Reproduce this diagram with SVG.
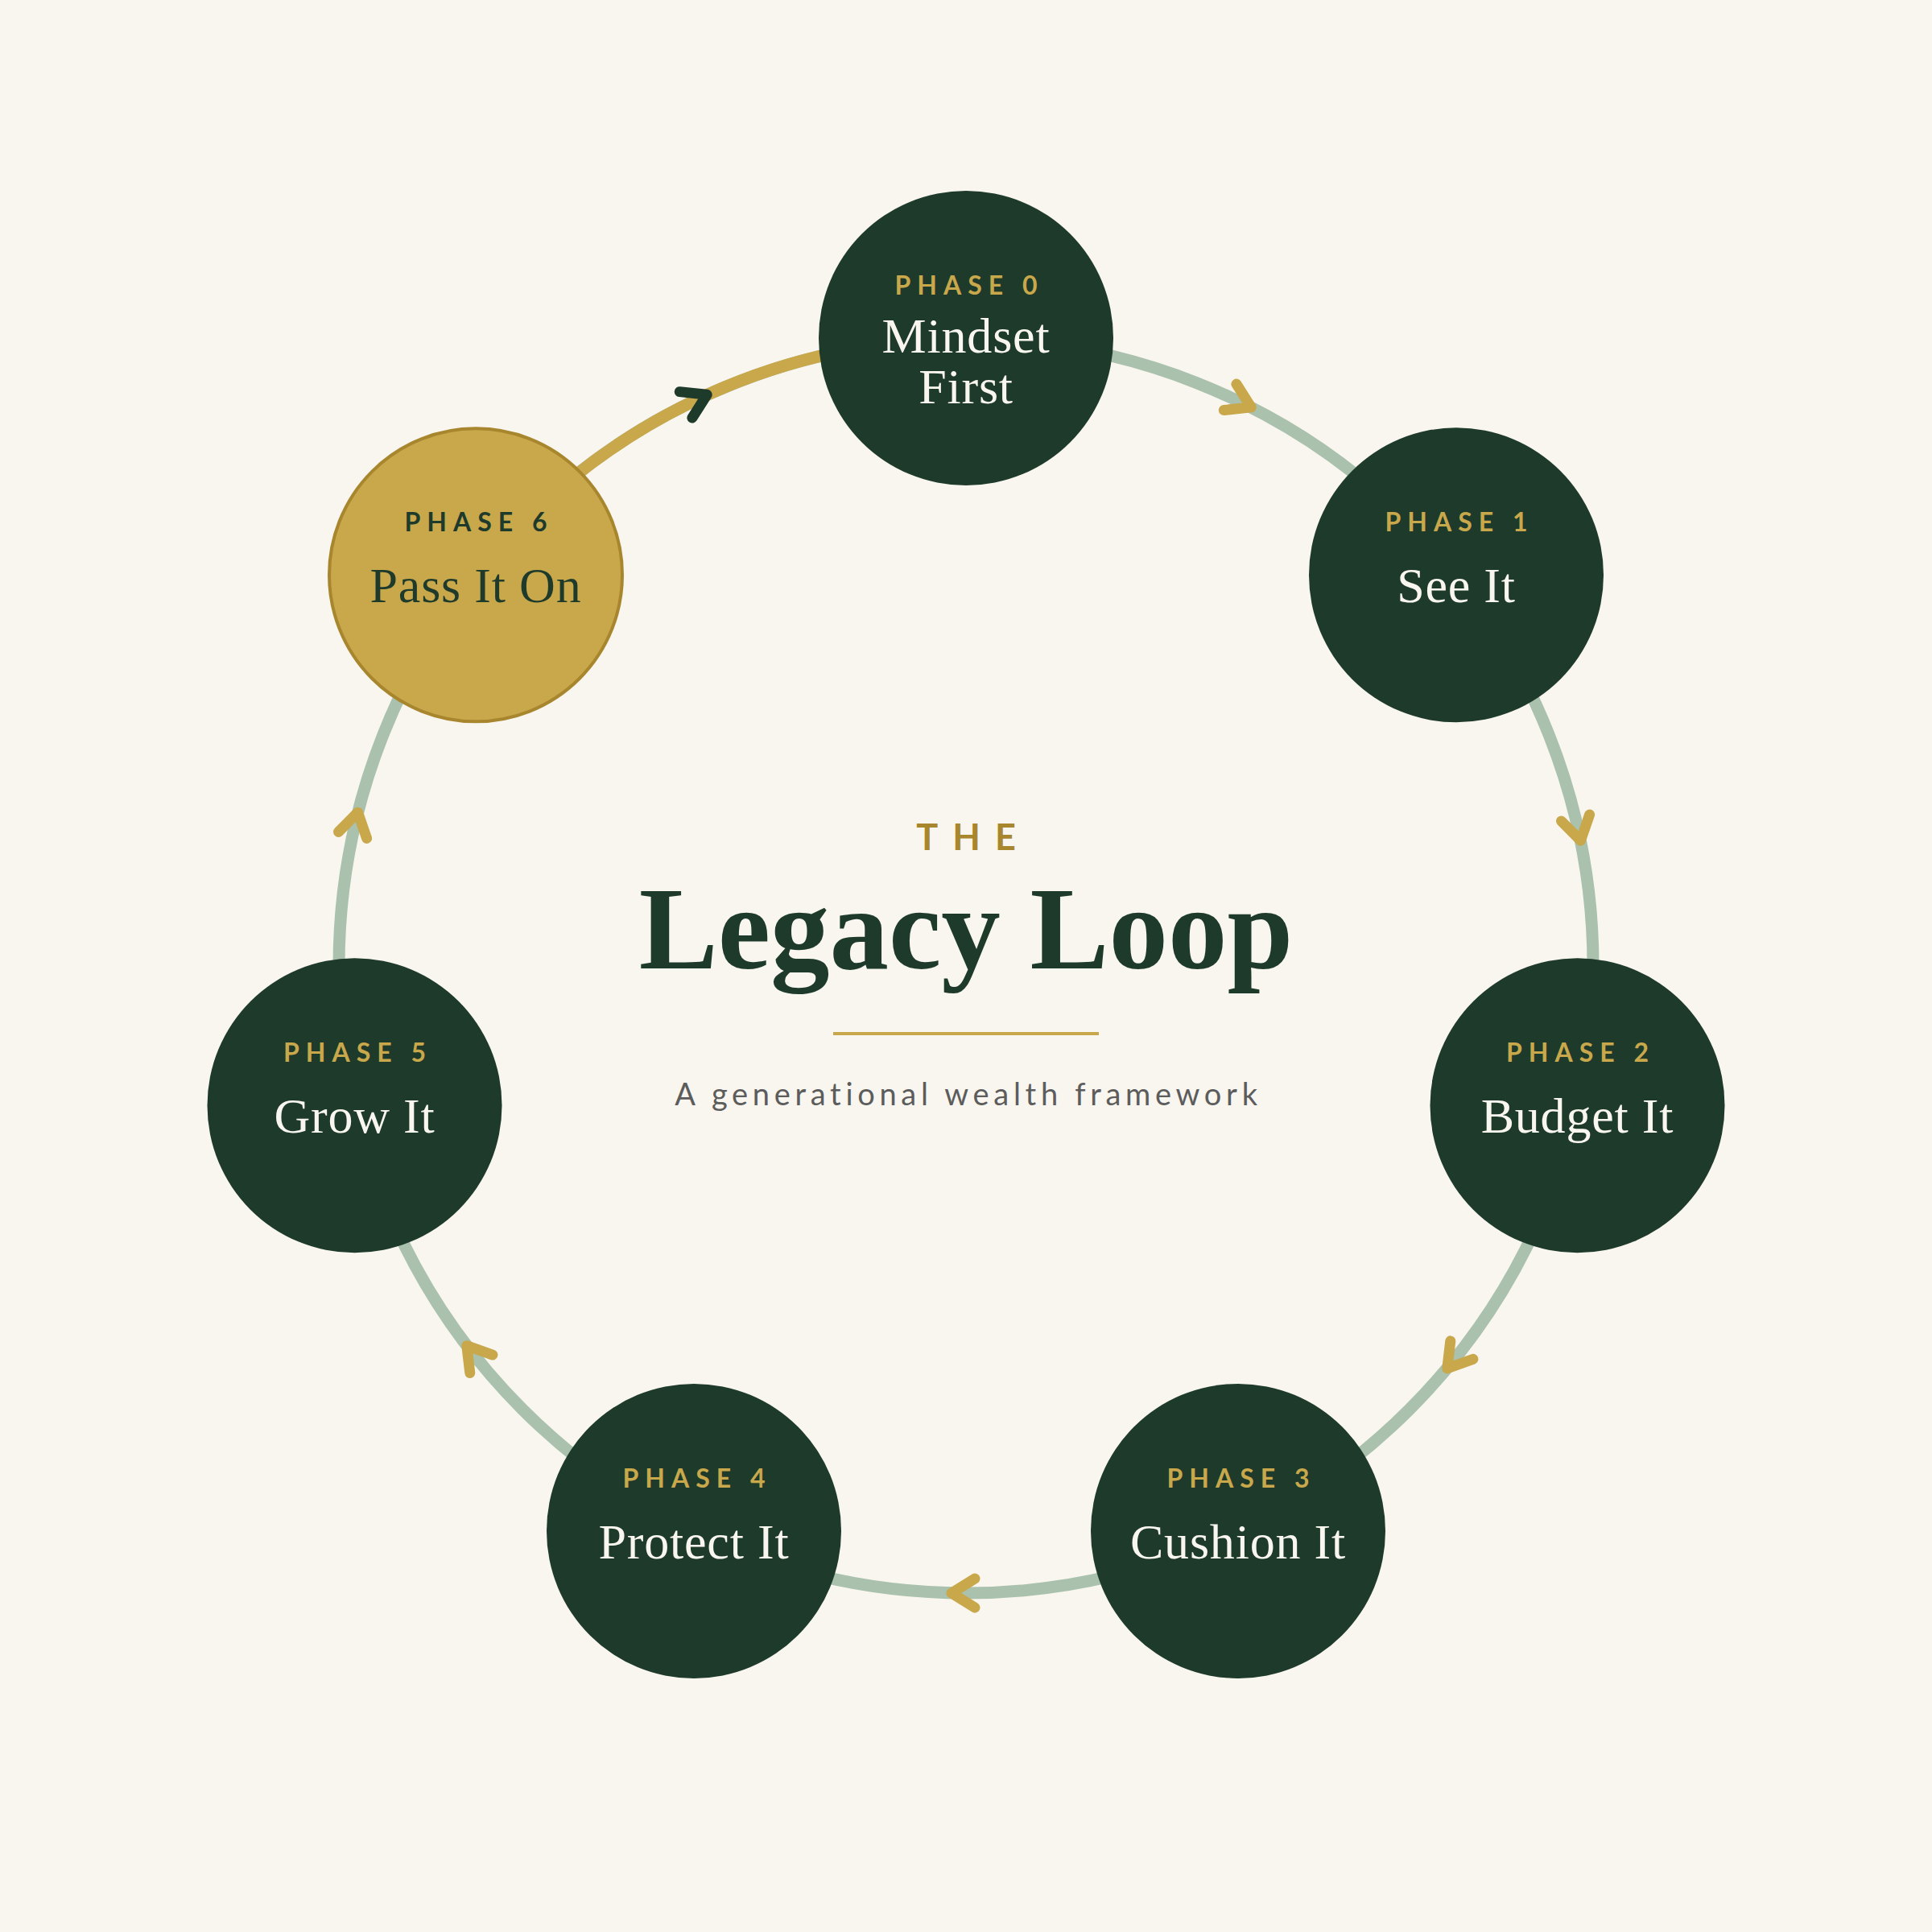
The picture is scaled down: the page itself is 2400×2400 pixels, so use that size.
<svg xmlns="http://www.w3.org/2000/svg" xmlns:xlink="http://www.w3.org/1999/xlink" width="2400" height="2400" viewBox="0 0 2400 2400">
  <style>
    .ring { fill: none; stroke: #a9c1ad; stroke-width: 15; }
    .ring-gold { fill: none; stroke: #c8a84b; stroke-width: 15; }
    .chev { fill: none; stroke: #c8a84b; stroke-width: 13; stroke-linecap: round; stroke-linejoin: round; }
    .chev-dark { stroke: #1e3a2b; }
    .node { fill: #1e3a2b; }
    .node-gold { fill: #c8a84b; stroke: #a8862e; stroke-width: 4; }
    .phase { font-family: Lato, "Liberation Sans", sans-serif; font-weight: 700; font-size: 32px; letter-spacing: 8px; fill: #c8a84b; text-anchor: middle; }
    .name { font-family: "Liberation Serif", "DejaVu Serif", serif; font-size: 62px; letter-spacing: 0.8px; fill: #f9f6ef; text-anchor: middle; }
    .dark { fill: #1e3a2b; }
    .kicker { font-family: Lato, "Liberation Sans", sans-serif; font-weight: 700; font-size: 45px; letter-spacing: 18px; fill: #a8862e; text-anchor: middle; }
    .title { font-family: "Liberation Serif", "DejaVu Serif", serif; font-weight: 700; font-size: 147px; fill: #1e3a2b; text-anchor: middle; }
    .subtitle { font-family: Lato, "Liberation Sans", sans-serif; font-size: 38px; letter-spacing: 5.7px; fill: #5c5c5c; text-anchor: middle; }
  </style>
  <defs>
    <path id="chevron" d="M-11,-18 L18,0 L-11,18"/>
  </defs>

  <rect width="2400" height="2400" fill="#f9f6ef"/>

  <!-- loop connectors: full ring, gold return arc, direction chevrons -->
  <g id="connectors">
    <circle class="ring" cx="1200" cy="1200" r="779"/>
    <path class="ring-gold" d="M591,714.3 A779,779 0 0 1 1200,421"/>
    <use href="#chevron" class="chev" transform="translate(1538,498.1) rotate(25.714)"/>
    <use href="#chevron" class="chev" transform="translate(1959.5,1026.7) rotate(77.143)"/>
    <use href="#chevron" class="chev" transform="translate(1809,1685.7) rotate(128.571)"/>
    <use href="#chevron" class="chev" transform="translate(1200,1979) rotate(180)"/>
    <use href="#chevron" class="chev" transform="translate(591,1685.7) rotate(231.429)"/>
    <use href="#chevron" class="chev" transform="translate(440.5,1026.7) rotate(282.857)"/>
    <use href="#chevron" class="chev chev-dark" transform="translate(862,498.1) rotate(334.286)"/>
  </g>

  <g id="phase-0">
    <circle class="node" cx="1200" cy="420" r="183"/>
    <text class="phase" x="1204" y="366">PHASE 0</text>
    <text class="name" x="1200" y="438">Mindset</text>
    <text class="name" x="1200" y="501">First</text>
  </g>

  <g id="phase-1">
    <circle class="node" cx="1809" cy="714.3" r="183"/>
    <text class="phase" x="1813" y="660">PHASE 1</text>
    <text class="name" x="1809" y="748">See It</text>
  </g>

  <g id="phase-2">
    <circle class="node" cx="1959.5" cy="1373.3" r="183"/>
    <text class="phase" x="1963.5" y="1319">PHASE 2</text>
    <text class="name" x="1959.5" y="1407">Budget It</text>
  </g>

  <g id="phase-3">
    <circle class="node" cx="1538" cy="1901.9" r="183"/>
    <text class="phase" x="1542" y="1848">PHASE 3</text>
    <text class="name" x="1538" y="1936">Cushion It</text>
  </g>

  <g id="phase-4">
    <circle class="node" cx="862" cy="1901.9" r="183"/>
    <text class="phase" x="866" y="1848">PHASE 4</text>
    <text class="name" x="862" y="1936">Protect It</text>
  </g>

  <g id="phase-5">
    <circle class="node" cx="440.5" cy="1373.3" r="183"/>
    <text class="phase" x="444.5" y="1319">PHASE 5</text>
    <text class="name" x="440.5" y="1407">Grow It</text>
  </g>

  <g id="phase-6">
    <circle class="node-gold" cx="591" cy="714.3" r="182"/>
    <text class="phase dark" x="595" y="660">PHASE 6</text>
    <text class="name dark" x="591" y="748">Pass It On</text>
  </g>

  <!-- centre title block -->
  <g id="title">
    <text class="kicker" x="1209" y="1056">THE</text>
    <text class="title" x="1200" y="1203">Legacy Loop</text>
    <rect x="1035" y="1282" width="330" height="4" fill="#c8a84b"/>
    <text class="subtitle" x="1203" y="1373">A generational wealth framework</text>
  </g>
</svg>
